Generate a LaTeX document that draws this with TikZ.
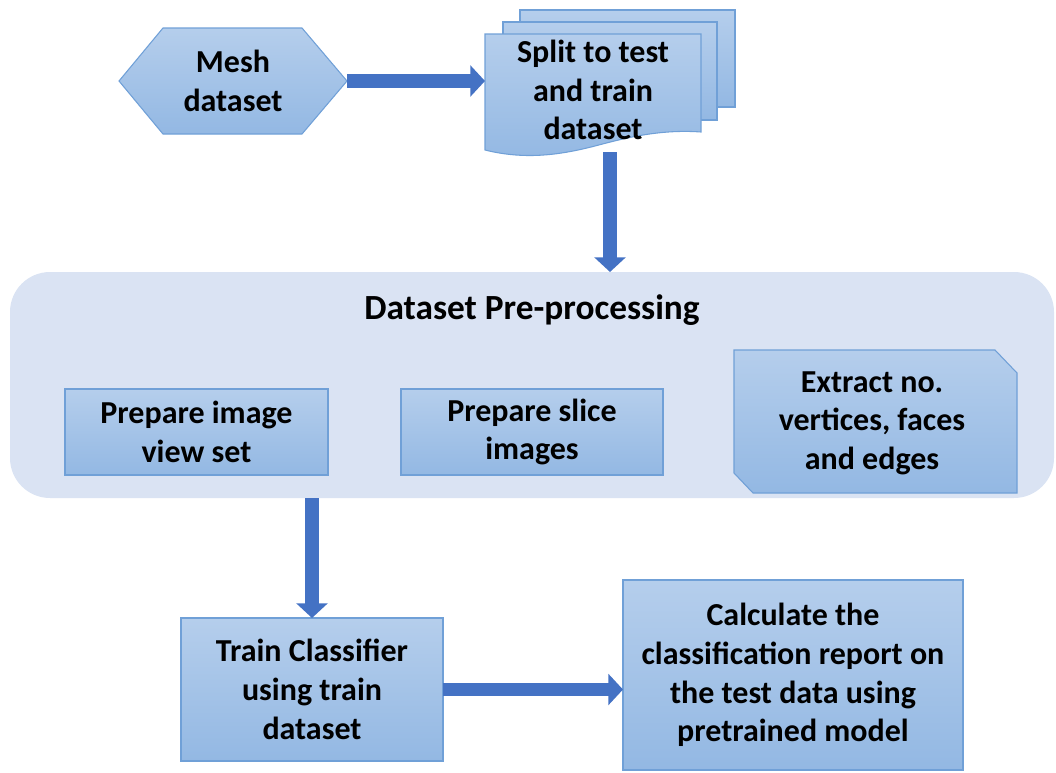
\documentclass[tikz,border=0pt]{standalone}
\usepackage{fontspec}
\setmainfont{Carlito}
\usetikzlibrary{arrows.meta}

\definecolor{boxtop}{RGB}{181,206,236}
\definecolor{boxbot}{RGB}{147,184,227}
\definecolor{boxline}{RGB}{112,160,215}
\definecolor{panel}{RGB}{218,227,243}
\definecolor{arrowblue}{RGB}{68,114,196}

\begin{document}
\begin{tikzpicture}[x=0.75pt,y=-0.75pt,
  lbl/.style={font=\bfseries\fontsize{24}{29}\selectfont, align=center, text=black},
  boxfill/.style={top color=boxtop, bottom color=boxbot, draw=boxline, line width=0.8pt},
  area/.style={inner sep=0pt, outer sep=0pt},
  blockarrow/.style={draw=arrowblue, line width=10pt,
    -{Triangle[width=23pt,length=11pt]}}
]
\useasboundingbox (0,0) rectangle (1056,772);

% ---- input mesh (hexagon) ----
\path[boxfill] (119,81) -- (163,28) -- (302,28) -- (347,81) -- (302,134) -- (163,134) -- cycle;
\node[area, lbl, minimum width=171pt, minimum height=79.5pt] (mesh) at (233,81) {Mesh\\dataset};

% ---- split step (stack of documents) ----
\node[area, minimum width=187.5pt, minimum height=106.5pt] (split) at (610,81) {};
\path[boxfill] (520,10) rectangle (735,107);
\path[boxfill] (503,22) rectangle (717,120);
\path[boxfill] (485,34) -- (701,34) -- (701,132)
  .. controls (660,129) and (625,138) .. (595,146)
  .. controls (560,155) and (525,160) .. (485,150) -- cycle;
\node[lbl] (splittext) at (593,90) {Split to test\\and train\\dataset};

% ---- pre-processing panel ----
\node[area, fill=panel, rounded corners=30pt, minimum width=783pt, minimum height=169.5pt] (prep) at (532,385) {};
\node[lbl, font=\bfseries\fontsize{26.5}{32}\selectfont] (title) at (532,310) {Dataset Pre-processing};

\node[area, lbl, boxfill, minimum width=197.25pt, minimum height=64.5pt] (views) at (196.5,432) {Prepare image\\view set};
\node[area, lbl, boxfill, minimum width=196.5pt, minimum height=64.5pt] (slices) at (532,432) {Prepare slice\\images};

\path[boxfill] (734,350) -- (995,350) -- (1017,373) -- (1017,493) -- (753,493) -- (734,473) -- cycle;
\node[area, minimum width=212.25pt, minimum height=107.25pt] (extract) at (875.5,421.5) {};
\node[lbl] (extracttext) at (872,423) {Extract no.\\vertices, faces\\and edges};

% ---- training and evaluation ----
\node[area, lbl, boxfill, minimum width=196.5pt, minimum height=107.25pt] (train) at (312,689.5) {Train Classifier\\using train\\dataset};
\node[area, lbl, boxfill, minimum width=255pt, minimum height=142.5pt] (calc) at (793,675) {Calculate the\\classification report on\\the test data using\\pretrained model};

% ---- connectors ----
\draw[blockarrow] (mesh.east) -- (mesh.east -| split.west);
\draw[blockarrow] (split.south) -- (split.south |- prep.north);
\draw[blockarrow] (prep.south -| train.north) -- (train.north);
\draw[blockarrow] (train.east) -- (train.east -| calc.west);
\end{tikzpicture}
\end{document}
